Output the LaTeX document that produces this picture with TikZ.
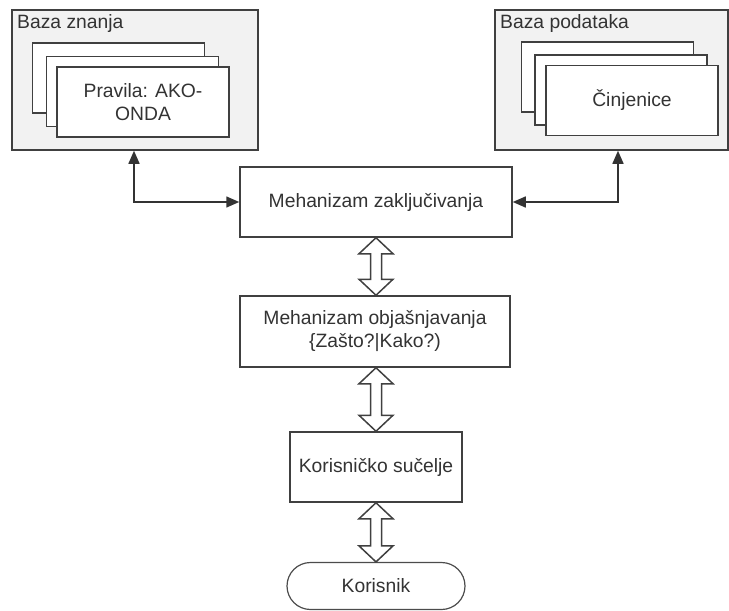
\documentclass[tikz,border=0pt]{standalone}
\usepackage{fontspec}
\setmainfont{Liberation Sans}
\usetikzlibrary{arrows.meta,calc,shapes.misc}
\begin{document}
\begin{tikzpicture}[x=1pt,y=-1pt,
  ln/.style={draw=black!75,line width=1.5pt},
  outerbox/.style={ln,fill=black!5,rectangle,inner sep=0pt,minimum width=#1,minimum height=140pt},
  card/.style={ln,fill=white,rectangle,inner sep=0pt,minimum width=172pt,minimum height=70pt,align=center,text=black!80},
  proc/.style={ln,fill=white,rectangle,inner sep=0pt,align=center,text=black!80},
  lbl/.style={inner sep=0pt,anchor=north west,text=black!80},
  link/.style={draw=black!80,line width=1.5pt,{Triangle[length=13pt,width=11pt]}-{Triangle[length=13pt,width=11pt]}},
  blk/.style={draw=black!75,line width=1.5pt,fill=white,line join=miter}
]
\useasboundingbox (0,0) rectangle (729,611);
\fontsize{19.3}{23}\selectfont
% left knowledge base
\node[outerbox=246pt] (bz) at (135,80) {};
\node[lbl] (bzl) at (17,14) {Baza znanja};
\node[card] (bz1) at (118.5,78) {};
\node[card] (bz2) at (132.5,91.5) {};
\node[card] (bz3) at (143,102) {Pravila: AKO-\\ONDA};
% right data base
\node[outerbox=233pt] (bp) at (611.5,80) {};
\node[lbl] (bpl) at (500,14) {Baza podataka};
\node[card] (bp1) at (607.5,77) {};
\node[card] (bp2) at (621,90) {};
\node[card] (bp3) at (632,100.5) {Činjenice};
% main column
\node[proc,minimum width=272pt,minimum height=70pt] (mz) at (376,202) {Mehanizam zaključivanja};
\node[proc,minimum width=270pt,minimum height=71pt] (mo) at (375,331.5) {Mehanizam objašnjavanja\\\{Zašto?|Kako?)};
\node[proc,minimum width=172pt,minimum height=70pt] (ks) at (376,467) {Korisničko sučelje};
\node[draw=black!70,line width=1.2pt,fill=white,rounded rectangle,inner sep=0pt,minimum width=178pt,minimum height=47pt,text=black!80] (kr) at (376,586) {Korisnik};
% side connectors
\coordinate (lx) at (134,0);
\coordinate (rx) at (618,0);
\draw[link] (bz.south -| lx) |- (mz.west);
\draw[link] (bp.south -| rx) |- (mz.east);
% block double arrows
\newcommand\dblarrow[2]{%
  \path (#1) coordinate (t) (#2) coordinate (b);
  \draw[blk] (t) -- ([shift={(17,16)}]t) -- ([shift={(5.5,16)}]t) -- ([shift={(5.5,-16)}]b) -- ([shift={(17,-16)}]b) -- (b) -- ([shift={(-17,-16)}]b) -- ([shift={(-5.5,-16)}]b) -- ([shift={(-5.5,16)}]t) -- ([shift={(-17,16)}]t) -- cycle;}
\dblarrow{mz.south}{mz.south |- mo.north}
\dblarrow{mo.south -| mz.south}{ks.north}
\dblarrow{ks.south}{kr.north}
\end{tikzpicture}
\end{document}
